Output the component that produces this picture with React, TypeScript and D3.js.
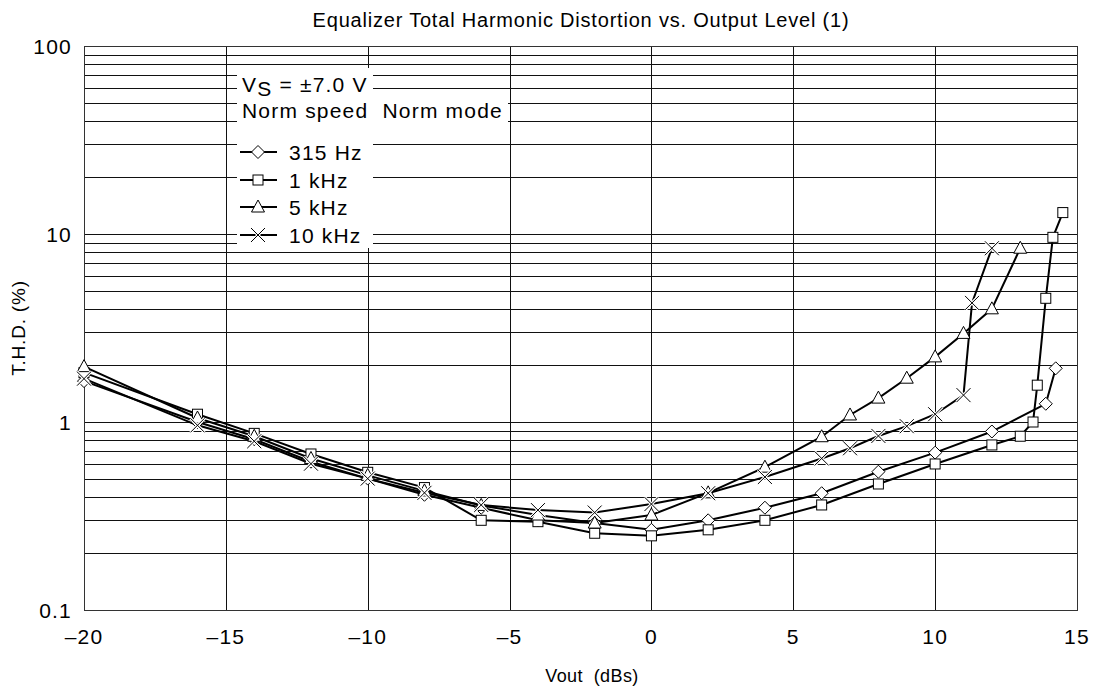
import * as d3 from "d3";

// THD vs output level
const vout315 = [-20, -16, -14, -12, -10, -8, -6, -4, -2, 0, 2, 4, 6, 8, 10, 12, 13.9, 14.25];
const thd315 = [1.65, 1.0, 0.81, 0.615, 0.5, 0.41, 0.35, 0.3, 0.29, 0.267, 0.3, 0.35, 0.418, 0.544, 0.687, 0.89, 1.25, 1.93];

const vout1k = [-20, -16, -14, -12, -10, -8, -6, -4, -2, 0, 2, 4, 6, 8, 10, 12, 13, 13.45, 13.6, 13.9, 14.15, 14.5];
const thd1k = [1.83, 1.1, 0.87, 0.676, 0.54, 0.448, 0.3, 0.295, 0.256, 0.248, 0.267, 0.3, 0.362, 0.468, 0.598, 0.755, 0.84, 1.0, 1.57, 4.55, 9.6, 13];

const vout5k = [-20, -16, -14, -12, -10, -8, -6, -4, -2, 0, 2, 4, 6, 7, 8, 9, 10, 11, 12, 13];
const thd5k = [1.97, 1.05, 0.84, 0.64, 0.52, 0.43, 0.36, 0.32, 0.29, 0.32, 0.42, 0.575, 0.835, 1.09, 1.34, 1.71, 2.22, 2.96, 4.0, 8.4];

const vout10k = [-20, -16, -14, -12, -10, -8, -6, -4, -2, 0, 2, 4, 6, 7, 8, 9, 10, 11, 11.3, 12];
const thd10k = [1.7, 0.96, 0.79, 0.6, 0.5, 0.42, 0.362, 0.34, 0.33, 0.366, 0.418, 0.51, 0.64, 0.725, 0.843, 0.95, 1.1, 1.39, 4.3, 8.4];

const seriesNames = ["315 Hz", "1 kHz", "5 kHz", "10 kHz"];
const seriesMarkers = ["diamond", "square", "triangle", "cross"];
const xTicks = [-20, -15, -10, -5, 0, 5, 10, 15];
const yTicks = [0.1, 1, 10, 100];
const yTickLabels = ["0.1", "1", "10", "100"];

const W = 1095;
const H = 690;
const M = { top: 46, right: 18, bottom: 80, left: 84 };
const FONT = "'Liberation Sans', Arial, Helvetica, sans-serif";
const FS = 21; // tick + legend text
const LS = 1.2; // reference glyphs run a little wider than Arial

type Pt = { x: number; y: number };

function Marker({ kind, cx, cy }: { kind: string; cx: number; cy: number }) {
  const t = `translate(${cx},${cy})`;
  if (kind === "diamond")
    return <path transform={t} d="M0,-6.5L6.5,0L0,6.5L-6.5,0Z" fill="#fff" stroke="#000" strokeWidth={1} />;
  if (kind === "square")
    return <rect transform={t} x={-5} y={-5} width={10} height={10} fill="#fff" stroke="#000" strokeWidth={1} />;
  if (kind === "triangle")
    return <path transform={t} d="M0,-7L6.5,5L-6.5,5Z" fill="#fff" stroke="#000" strokeWidth={1} />;
  return (
    <g transform={t}>
      <path d="M-7,-7L7,7M-7,7L7,-7" stroke="#fff" strokeWidth={3} />
      <path d="M-7,-7L7,7M-7,7L7,-7" stroke="#000" strokeWidth={1} />
    </g>
  );
}

export default function App() {
  const x = d3.scaleLinear().domain([-20, 15]).range([M.left, W - M.right]);
  const y = d3.scaleLog().domain([0.1, 100]).range([H - M.bottom, M.top]);

  const series: Pt[][] = [
    vout315.map((v, i) => ({ x: v, y: thd315[i] })),
    vout1k.map((v, i) => ({ x: v, y: thd1k[i] })),
    vout5k.map((v, i) => ({ x: v, y: thd5k[i] })),
    vout10k.map((v, i) => ({ x: v, y: thd10k[i] })),
  ];

  const line = d3
    .line<Pt>()
    .x((d) => x(d.x))
    .y((d) => y(d.y));

  // minor grid: 2..9 in each decade
  const minor: number[] = [];
  for (const dec of [0.1, 1, 10]) for (let k = 2; k <= 9; k++) minor.push(dec * k);

  const x0 = x(-20);
  const x1 = x(15);
  const y0 = y(0.1);
  const y1 = y(100);

  const legendY = [152, 180, 207, 235];

  return (
    <svg width={W} height={H} style={{ position: "absolute", left: 0, top: 0 }} fontFamily={FONT}>
      <rect width={W} height={H} fill="#fff" />
      <g shapeRendering="crispEdges">
        {minor.concat(yTicks).map((v, i) => (
          <line key={"h" + i} x1={x0} x2={x1} y1={Math.round(y(v))} y2={Math.round(y(v))} stroke="#111" strokeWidth={1} />
        ))}
        {xTicks.map((v) => (
          <line key={"v" + v} x1={Math.round(x(v))} x2={Math.round(x(v))} y1={y1} y2={y0} stroke="#111" strokeWidth={1} />
        ))}
        <rect x={x0} y={y1} width={x1 - x0} height={y0 - y1} fill="none" stroke="#333" strokeWidth={1} />
      </g>

      {/* legend background */}
      <rect x={237} y={68} width={136} height={180} fill="#fff" />
      <rect x={372} y={96} width={136} height={26} fill="#fff" />

      {series.map((s, i) => (
        <path key={"l" + i} d={line(s) || ""} fill="none" stroke="#000" strokeWidth={2} />
      ))}
      {series.map((s, i) =>
        s.map((d, j) => <Marker key={`m${i}-${j}`} kind={seriesMarkers[i]} cx={x(d.x)} cy={y(d.y)} />)
      )}

      {/* legend */}
      <text x={242} y={92} fontSize={FS} letterSpacing={LS} xmlSpace="preserve">
        V<tspan dy={4}>S</tspan>
        <tspan dy={-4}> = ±7.0 V</tspan>
      </text>
      <text x={242} y={118} fontSize={FS} letterSpacing={LS} xmlSpace="preserve">
        Norm speed  Norm mode
      </text>
      {seriesNames.map((n, i) => (
        <g key={n}>
          <line x1={240} x2={277} y1={legendY[i]} y2={legendY[i]} stroke="#000" strokeWidth={2} />
          <Marker kind={seriesMarkers[i]} cx={258} cy={legendY[i]} />
          <text x={289} y={legendY[i] + 8} fontSize={FS} letterSpacing={LS}>
            {n}
          </text>
        </g>
      ))}

      {/* ticks */}
      {yTicks.map((v, i) => (
        <text key={"yt" + v} x={72} y={y(v) + 8} fontSize={FS} letterSpacing={LS} textAnchor="end">
          {yTickLabels[i]}
        </text>
      ))}
      {xTicks.map((v) => (
        <text key={"xt" + v} x={x(v)} y={644} fontSize={FS} letterSpacing={LS} textAnchor="middle">
          {v < 0 ? "\u2013" + Math.abs(v) : String(v)}
        </text>
      ))}

      <text x={581} y={27} fontSize={20} letterSpacing={0.8} textAnchor="middle">
        Equalizer Total Harmonic Distortion vs. Output Level (1)
      </text>
      <text x={592} y={682} fontSize={18} letterSpacing={0.4} textAnchor="middle" xmlSpace="preserve">
        Vout  (dBs)
      </text>
      <text transform={`translate(25,328) rotate(-90)`} fontSize={19} letterSpacing={0.8} textAnchor="middle">
        T.H.D. (%)
      </text>
    </svg>
  );
}
